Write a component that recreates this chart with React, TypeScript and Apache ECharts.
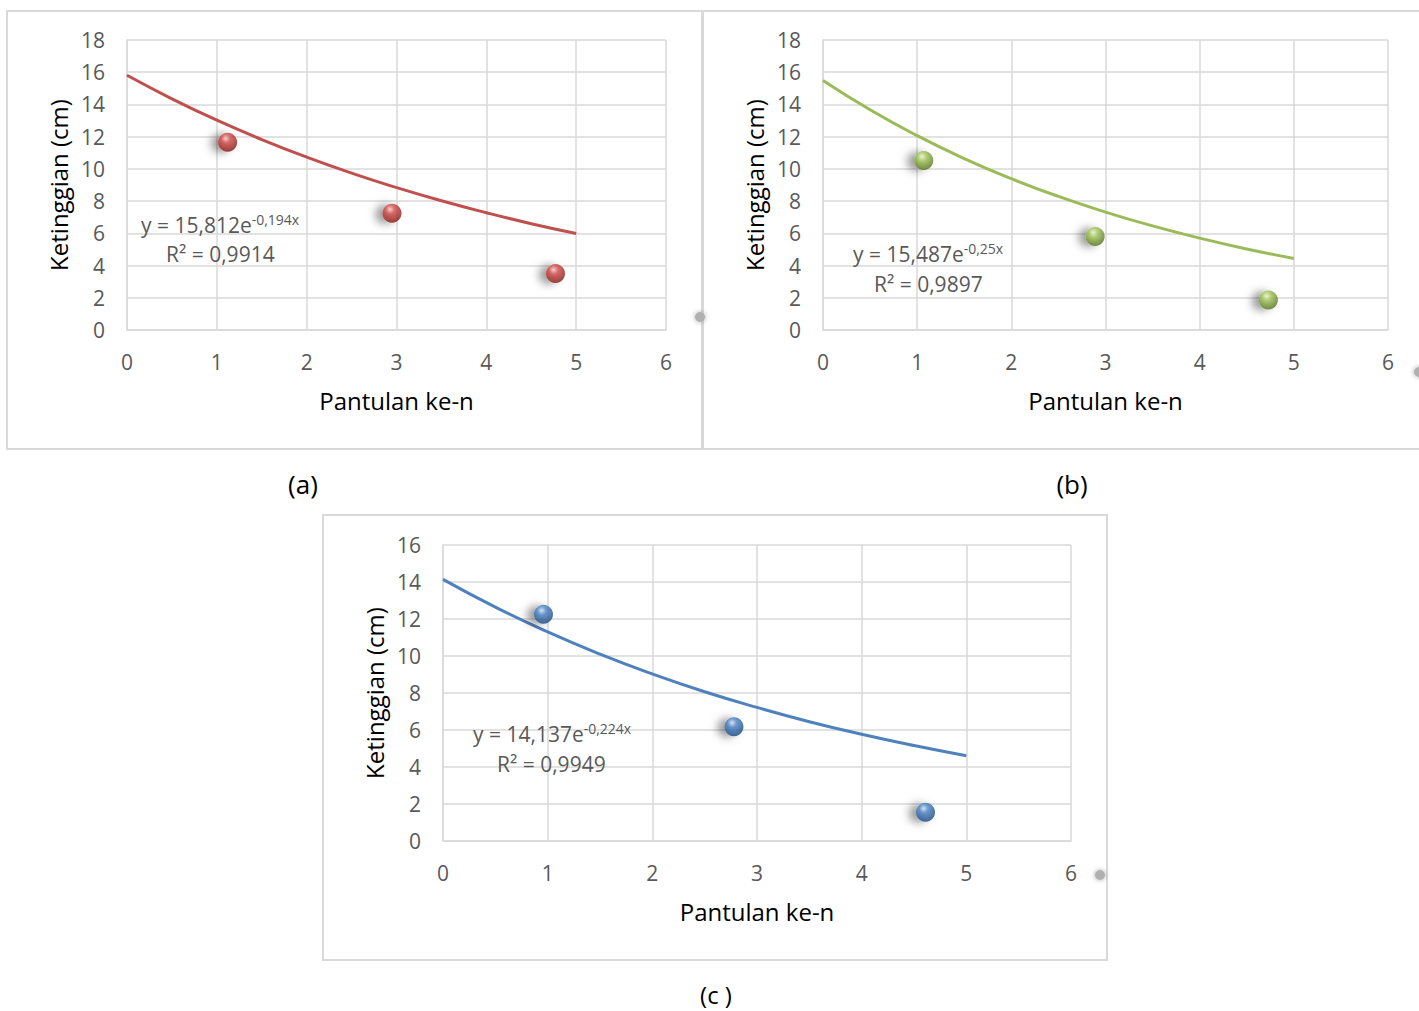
import React, { useEffect, useRef } from "react";
import * as echarts from "echarts";

// ---- data ----
const xTicks = [0, 1, 2, 3, 4, 5, 6];
const trendX = [0, 0.5, 1, 1.5, 2, 2.5, 3, 3.5, 4, 4.5, 5];

const pointsXA = [1.12, 2.95, 4.77];
const pointsYA = [11.65, 7.25, 3.5];
const trendYA = [15.81, 14.35, 13.02, 11.82, 10.73, 9.74, 8.84, 8.02, 7.28, 6.6, 5.99];

const pointsXB = [1.07, 2.89, 4.73];
const pointsYB = [10.52, 5.8, 1.86];
const trendYB = [15.49, 13.67, 12.06, 10.64, 9.39, 8.29, 7.32, 6.46, 5.7, 5.03, 4.44];

const pointsXC = [0.96, 2.78, 4.61];
const pointsYC = [12.25, 6.18, 1.55];
const trendYC = [14.14, 12.64, 11.3, 10.1, 9.03, 8.07, 7.22, 6.45, 5.77, 5.16, 4.61];

const yTitle = "Ketinggian (cm)";
const xTitle = "Pantulan ke-n";

const FONT = "'Open Sans', sans-serif";
const GRID_COLOR = "#d9d9d9";
const LABEL_COLOR = "#595959";

function sphere(light: string, mid: string, dark: string) {
  return {
    type: "radial",
    x: 0.4,
    y: 0.3,
    r: 0.78,
    colorStops: [
      { offset: 0, color: light },
      { offset: 0.3, color: mid },
      { offset: 0.85, color: dark },
      { offset: 1, color: dark },
    ],
  };
}

function axes(gridIndex: number, yMax: number) {
  const xAxis = {
    type: "value",
    gridIndex,
    min: 0,
    max: 6,
    interval: 1,
    name: xTitle,
    nameLocation: "middle",
    nameGap: 58,
    nameTextStyle: { fontFamily: FONT, fontSize: 24, color: "#000" },
    axisLine: { show: true, lineStyle: { color: GRID_COLOR, width: 1.5 } },
    axisTick: { show: false },
    axisLabel: { fontFamily: FONT, fontSize: 21, color: LABEL_COLOR, margin: 21 },
    splitLine: { show: true, lineStyle: { color: GRID_COLOR, width: 1.5 } },
  };
  const yAxis = {
    type: "value",
    gridIndex,
    min: 0,
    max: yMax,
    interval: 2,
    name: yTitle,
    nameLocation: "middle",
    nameGap: 57,
    nameTextStyle: { fontFamily: FONT, fontSize: 24, color: "#000" },
    axisLine: { show: true, lineStyle: { color: GRID_COLOR, width: 1.5 } },
    axisTick: { show: false },
    axisLabel: { fontFamily: FONT, fontSize: 21, color: LABEL_COLOR, margin: 22 },
    splitLine: { show: true, lineStyle: { color: GRID_COLOR, width: 1.5 } },
  };
  return { xAxis, yAxis };
}

function seriesFor(
  idx: number,
  px: number[],
  py: number[],
  ty: number[],
  lineColor: string,
  ball: any
) {
  return [
    {
      type: "line",
      xAxisIndex: idx,
      yAxisIndex: idx,
      data: trendX.map((x, i) => [x, ty[i]]),
      smooth: true,
      showSymbol: false,
      lineStyle: { color: lineColor, width: 3 },
      z: 2,
    },
    {
      type: "scatter",
      xAxisIndex: idx,
      yAxisIndex: idx,
      data: px.map((x, i) => [x, py[i]]),
      symbol: "circle",
      symbolSize: 19,
      itemStyle: {
        color: ball,
        shadowColor: "rgba(0,0,0,0.5)",
        shadowBlur: 8,
        shadowOffsetX: -7,
        shadowOffsetY: 1,
      },
      z: 3,
    },
  ];
}

function equation(x: number, y: number, coef: string, exp: string, r2: string, r2dx: number, r2y: number) {
  return [
    {
      type: "text",
      left: x,
      top: y,
      z: 10,
      style: {
        text: `{a|y = ${coef}e}{s|${exp}}`,
        rich: {
          a: { fontFamily: FONT, fontSize: 21, fill: LABEL_COLOR, lineHeight: 26 },
          s: { fontFamily: FONT, fontSize: 14, fill: LABEL_COLOR, lineHeight: 14, verticalAlign: "top" },
        },
      },
    },
    {
      type: "text",
      left: x + r2dx,
      top: r2y,
      z: 10,
      style: {
        text: `R² = ${r2}`,
        font: `21px ${FONT}`,
        fill: LABEL_COLOR,
      },
    },
  ];
}

function caption(text: string, cx: number, cy: number, size: number) {
  return {
    type: "text",
    x: cx,
    y: cy,
    style: {
      text,
      font: `${size}px ${FONT}`,
      fill: "#000",
      align: "center",
      verticalAlign: "middle",
    },
  };
}

function greyDot(cx: number, cy: number) {
  return {
    type: "circle",
    shape: { cx, cy, r: 5 },
    style: { fill: "#b0b0b0", shadowBlur: 5, shadowColor: "rgba(0,0,0,0.35)" },
    z: 0,
  };
}

export default function App() {
  const ref = useRef<HTMLDivElement>(null);
  useEffect(() => {
    if (!ref.current) return;
    const chart = echarts.init(ref.current, null, { renderer: "svg" });
    const a = axes(0, 18);
    const b = axes(1, 18);
    const c = axes(2, 16);
    const option: any = {
      animation: false,
      backgroundColor: "#fff",
      grid: [
        { left: 127, top: 40, width: 539, height: 290 },
        { left: 823, top: 40, width: 565, height: 290 },
        { left: 443, top: 545, width: 628, height: 296 },
      ],
      xAxis: [a.xAxis, b.xAxis, c.xAxis],
      yAxis: [a.yAxis, b.yAxis, c.yAxis],
      series: [
        ...seriesFor(0, pointsXA, pointsYA, trendYA, "#C0504D", sphere("#f8cfcd", "#d4504c", "#8a1c19")),
        ...seriesFor(1, pointsXB, pointsYB, trendYB, "#9BBB59", sphere("#eef9d4", "#a5c75d", "#5c7a22")),
        ...seriesFor(2, pointsXC, pointsYC, trendYC, "#4F81BD", sphere("#d3e4f7", "#4f86c6", "#1d4b85")),
      ],
      graphic: [
        {
          type: "rect",
          shape: { x: 7, y: 11, width: 695, height: 438 },
          style: { fill: "none", stroke: GRID_COLOR, lineWidth: 2 },
          z: -1,
        },
        {
          type: "rect",
          shape: { x: 703, y: 11, width: 730, height: 438 },
          style: { fill: "none", stroke: GRID_COLOR, lineWidth: 2 },
          z: -1,
        },
        {
          type: "rect",
          shape: { x: 323, y: 515, width: 784, height: 445 },
          style: { fill: "none", stroke: GRID_COLOR, lineWidth: 2 },
          z: -1,
        },
        greyDot(700, 317),
        greyDot(1419, 372),
        greyDot(1100, 875),
        ...equation(141, 212, "15,812", "-0,194x", "0,9914", 25, 243),
        ...equation(853, 241, "15,487", "-0,25x", "0,9897", 21, 273),
        ...equation(473, 721, "14,137", "-0,224x", "0,9949", 24, 753),
        caption("(a)", 303, 484, 26),
        caption("(b)", 1072, 484, 26),
        caption("(c )", 716, 994, 24),
      ],
    };
    chart.setOption(option);
    return () => chart.dispose();
  }, []);
  return (
    <div
      ref={ref}
      style={{ position: "absolute", left: 0, top: 0, width: 1419, height: 1011 }}
    />
  );
}
